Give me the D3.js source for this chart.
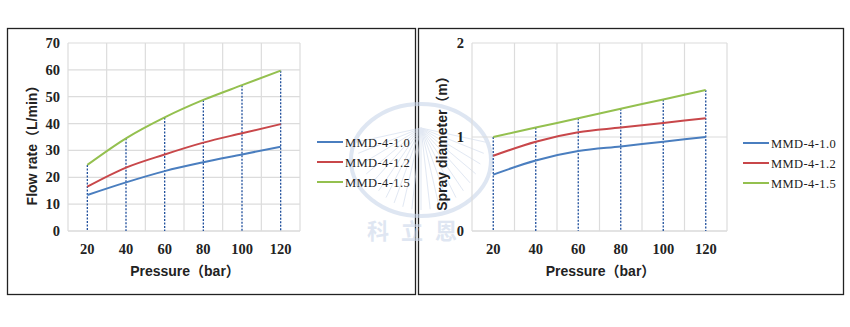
<!DOCTYPE html>
<html>
<head>
<meta charset="utf-8">
<script src="https://cdn.jsdelivr.net/npm/d3@7"></script>
<style>
  body { margin: 0; background: #fff; }
  svg { display: block; }
  .tick-label { font-family: 'Liberation Serif', serif; font-weight: bold; font-size: 14.5px; fill: #222; }
  .axis-title { font-family: 'Liberation Sans', 'Noto Sans CJK SC', sans-serif; font-weight: bold; font-size: 14px; fill: #222; }
  .legend-label { font-family: 'Liberation Serif', serif; font-size: 12.5px; letter-spacing: 0.4px; fill: #222; }
</style>
</head>
<body>
<svg id="chart" width="850" height="327"></svg>
<script>
// pressures on x axis (bar)
const pressures = [20, 40, 60, 80, 100, 120]
const seriesNames = ['MMD-4-1.0', 'MMD-4-1.2', 'MMD-4-1.5']
const colors = ['#4a7ebf', '#c8474a', '#94c04f']

// flow rate (L/min)
const flow10 = [13.4, 18.1, 22.3, 25.6, 28.5, 31.4]
const flow12 = [16.5, 23.6, 28.5, 32.9, 36.4, 39.8]
const flow15 = [24.6, 34.5, 42.3, 48.8, 54.3, 59.7]
const flowTicks = [0, 10, 20, 30, 40, 50, 60, 70]

// spray diameter (m)
const spray10 = [0.60, 0.75, 0.85, 0.90, 0.95, 1.00]
const spray12 = [0.80, 0.95, 1.05, 1.10, 1.15, 1.20]
const spray15 = [1.00, 1.10, 1.20, 1.30, 1.40, 1.50]
const sprayTicks = [0, 1, 2]

// watermark characters
const watermarkChars = ['科', '立', '恩']

const svg = d3.select('#chart')

// panel frames
svg.append('rect').attr('x', 7.5).attr('y', 28.5).attr('width', 408).attr('height', 266)
  .attr('fill', 'none').attr('stroke', '#222').attr('stroke-width', 1.3)
svg.append('rect').attr('x', 418.5).attr('y', 28.5).attr('width', 425).attr('height', 266)
  .attr('fill', 'none').attr('stroke', '#222').attr('stroke-width', 1.3)

// faint watermark
const wm = svg.append('g').attr('opacity', 0.6)
wm.append('ellipse').attr('cx', 421).attr('cy', 160).attr('rx', 70).attr('ry', 56)
  .attr('fill', 'none').attr('stroke', '#c9d6ea').attr('stroke-width', 4)
d3.range(-80, 81, 8).forEach(a => {
  const rad = (a + 90) * Math.PI / 180
  wm.append('line')
    .attr('x1', 421).attr('y1', 128)
    .attr('x2', 421 + Math.cos(rad) * 66).attr('y2', 128 + Math.sin(rad) * 82)
    .attr('stroke', '#cfdaec').attr('stroke-width', 1)
})
wm.selectAll('.wmchar').data(watermarkChars).join('text')
  .attr('x', (d, i) => 378 + i * 34).attr('y', 239)
  .attr('text-anchor', 'middle')
  .attr('font-family', 'Noto Sans CJK SC').attr('font-weight', 'bold').attr('font-size', 22)
  .attr('fill', '#cbd7ea')
  .text(d => d)

function makeChart(cfg) {
  const x = d3.scaleBand().domain(pressures).range([cfg.left, cfg.right])
  const y = d3.scaleLinear().domain(cfg.yDomain).range([231, 43])
  const cx = d => x(d) + x.bandwidth() / 2
  const g = svg.append('g')

  // horizontal grid
  g.selectAll('.hgrid').data(cfg.ticks).join('line')
    .attr('x1', cfg.left).attr('x2', cfg.right)
    .attr('y1', d => y(d)).attr('y2', d => y(d))
    .attr('stroke', d => d === 0 ? '#c8c8c8' : '#dcdcdc').attr('stroke-width', 1.2)

  // vertical grid at band edges
  const edges = pressures.map(d => x(d)).concat([cfg.right])
  g.selectAll('.vgrid').data(edges).join('line')
    .attr('x1', d => d).attr('x2', d => d)
    .attr('y1', y(cfg.yDomain[1])).attr('y2', y(0))
    .attr('stroke', '#dcdcdc').attr('stroke-width', 1.2)

  // y tick labels
  g.selectAll('.ylab').data(cfg.ticks).join('text')
    .attr('class', 'tick-label')
    .attr('x', cfg.left - 8).attr('y', d => y(d) + 5)
    .attr('text-anchor', 'end')
    .text(d => d)

  // x tick labels
  g.selectAll('.xlab').data(pressures).join('text')
    .attr('class', 'tick-label')
    .attr('x', d => cx(d)).attr('y', 254)
    .attr('text-anchor', 'middle')
    .text(d => d)

  // dotted drop lines from the top series
  const top = cfg.series[cfg.series.length - 1]
  g.selectAll('.drop').data(pressures).join('line')
    .attr('x1', d => cx(d)).attr('x2', d => cx(d))
    .attr('y1', (d, i) => y(top[i])).attr('y2', y(0))
    .attr('stroke', '#1f4f9c').attr('stroke-width', 1.3)
    .attr('stroke-dasharray', '2,1.5')

  // series lines
  const line = d3.line()
    .x((d, i) => cx(pressures[i]))
    .y(d => y(d))
    .curve(d3.curveMonotoneX)

  cfg.series.forEach((s, k) => {
    g.append('path')
      .attr('d', line(s))
      .attr('fill', 'none')
      .attr('stroke', colors[k])
      .attr('stroke-width', 2)
  })

  // axis titles
  g.append('text').attr('class', 'axis-title')
    .attr('x', (cfg.left + cfg.right) / 2 + 1).attr('y', 276)
    .attr('text-anchor', 'middle')
    .text('Pressure（bar）')
  g.append('text').attr('class', 'axis-title')
    .attr('transform', `translate(${cfg.titleX}, ${cfg.titleY}) rotate(-90)`)
    .attr('text-anchor', 'middle').attr('dominant-baseline', 'central')
    .text(cfg.yTitle)

  // legend
  seriesNames.forEach((name, k) => {
    const ly = cfg.legendY + k * 20
    g.append('line')
      .attr('x1', cfg.legendX).attr('x2', cfg.legendX + 26)
      .attr('y1', ly).attr('y2', ly)
      .attr('stroke', colors[k]).attr('stroke-width', 2)
    g.append('text').attr('class', 'legend-label')
      .attr('x', cfg.legendX + 28).attr('y', ly + 4.5)
      .text(name)
  })
}

makeChart({
  left: 68, right: 300,
  yDomain: [0, 70], ticks: flowTicks,
  series: [flow10, flow12, flow15],
  yTitle: 'Flow rate（L/min）', titleX: 32, titleY: 142,
  legendX: 317, legendY: 142
})

makeChart({
  left: 472, right: 727,
  yDomain: [0, 2], ticks: sprayTicks,
  series: [spray10, spray12, spray15],
  yTitle: 'Spray diameter（m）', titleX: 442, titleY: 140,
  legendX: 743, legendY: 143
})
</script>
</body>
</html>
